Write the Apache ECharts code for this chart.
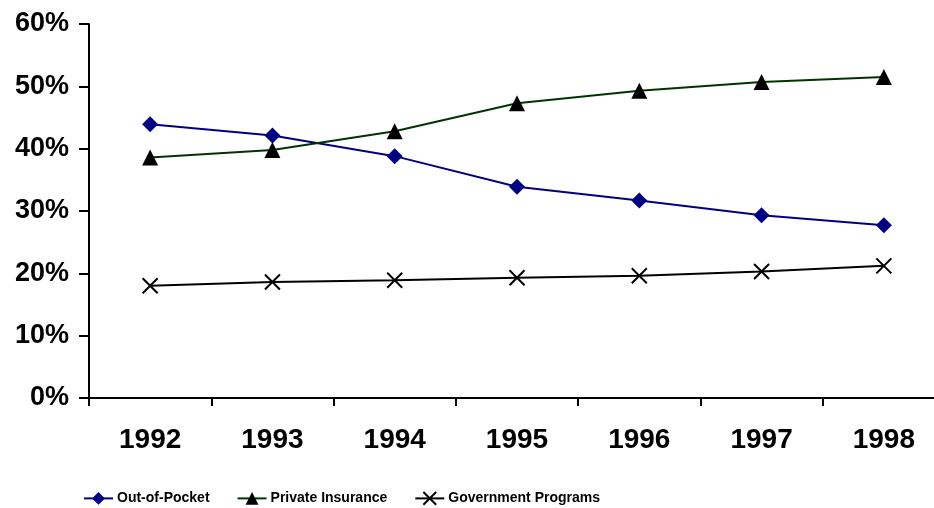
<!DOCTYPE html>
<html><head><meta charset="utf-8">
<script src="https://cdn.jsdelivr.net/npm/echarts@6/dist/echarts.min.js"></script>
<style>html,body{margin:0;padding:0;background:#fff}#c{width:934px;height:508px}</style>
</head><body><div id="c"></div>
<script>
const years = ['1992','1993','1994','1995','1996','1997','1998'];
const outOfPocket = [43.9, 42.1, 38.8, 33.9, 31.7, 29.3, 27.7];
const privateInsurance = [38.6, 39.8, 42.8, 47.3, 49.3, 50.7, 51.5];
const governmentPrograms = [18.0, 18.6, 18.9, 19.3, 19.6, 20.3, 21.2];
const yTicks = {min: 0, max: 60, interval: 10};

const chart = echarts.init(document.getElementById('c'));
const xPath = 'path://M0,0 L10,10 M10,0 L0,10';
chart.setOption({
  animation: false,
  textStyle: {fontFamily: 'Liberation Sans'},
  grid: {left: 89, top: 24, width: 856, height: 374, containLabel: false, outerBoundsMode: 'none'},
  legend: {
    left: 78, top: 486, itemWidth: 29, itemHeight: 16, itemGap: 27,
    textStyle: {fontFamily: 'Liberation Sans', fontWeight: 'bold', fontSize: 14, color: '#000', padding: [0,0,0,-1]},
    data: ['Out-of-Pocket', 'Private Insurance', 'Government Programs']
  },
  xAxis: {
    type: 'category', data: years, boundaryGap: true,
    axisLine: {lineStyle: {color: '#000', width: 2}},
    axisTick: {show: true, length: 8, lineStyle: {color: '#000', width: 2}},
    axisLabel: {fontSize: 28, fontWeight: 'bold', color: '#000', margin: 28}
  },
  yAxis: {
    type: 'value', min: yTicks.min, max: yTicks.max, interval: yTicks.interval,
    axisLine: {show: true, lineStyle: {color: '#000', width: 2}},
    axisTick: {show: true, length: 10, lineStyle: {color: '#000', width: 2}},
    splitLine: {show: false},
    axisLabel: {formatter: '{value}%', fontSize: 27, fontWeight: 'bold', color: '#000', margin: 20}
  },
  series: [
    {name: 'Out-of-Pocket', type: 'line', data: outOfPocket, symbol: 'diamond', symbolSize: 16,
      lineStyle: {color: '#000080', width: 2}, itemStyle: {color: '#000080'}},
    {name: 'Private Insurance', type: 'line', data: privateInsurance, symbol: 'triangle', symbolSize: 16,
      lineStyle: {color: '#003300', width: 2}, itemStyle: {color: '#000'}},
    {name: 'Government Programs', type: 'line', data: governmentPrograms, symbol: xPath, symbolSize: 15,
      lineStyle: {color: '#000', width: 2}, itemStyle: {color: '#000', borderColor: '#000', borderWidth: 2}}
  ]
});
</script></body></html>
